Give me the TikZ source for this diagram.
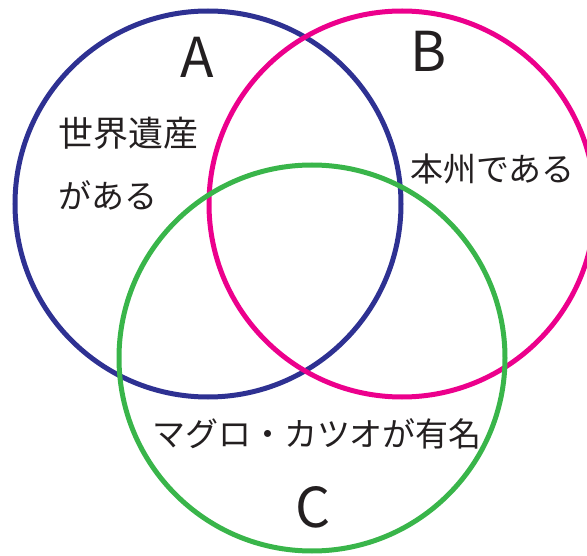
\documentclass[tikz,border=0pt]{standalone}
\usepackage{fontspec}
\setmainfont{Noto Sans CJK JP}
\usetikzlibrary{positioning}
\definecolor{setA}{HTML}{2E3192}
\definecolor{setB}{HTML}{EC008C}
\definecolor{setC}{HTML}{39B54A}
\definecolor{ink}{HTML}{231F20}
\begin{document}
\begin{tikzpicture}[x=1pt,y=-1pt]%
            \useasboundingbox (0,0) rectangle (587,556);
            \begin{scope}[line width=5pt]%
            \draw[setA] (208,204) circle[radius=193pt]; %%
            \draw[setB] (402,204) circle[radius=193pt]; %%
            \draw[setC] (312,358) circle[radius=193pt]; %%
            \end{scope}
            \begin{scope}[inner sep=0pt,text=ink]%
            \tikzstyle{every node}=[font=\fontsize{33}{40}\selectfont] %%
            \tikzstyle{setname}=[font=\fontsize{55}{60}\selectfont,anchor=base] %%
            \node[setname] (nameA) at (197,78) {A}; %%
            \node[setname] (nameB) at (429,72) {B}; %%
            \node[setname] (nameC) at (313,527) {C}; %%
            \node[anchor=west,font=\fontsize{35}{40}\selectfont] (isA1) at (58,133) {世界遺産}; %%
            \node[anchor=west] (isA2) at (58,195) {がある}; %%
            \node[anchor=west] (isB) at (410,169) {本州である}; %%
            \node (isC) at (317,434) {マグロ・カツオが有名}; %%
            \end{scope}
        \end{tikzpicture}
\end{document}
